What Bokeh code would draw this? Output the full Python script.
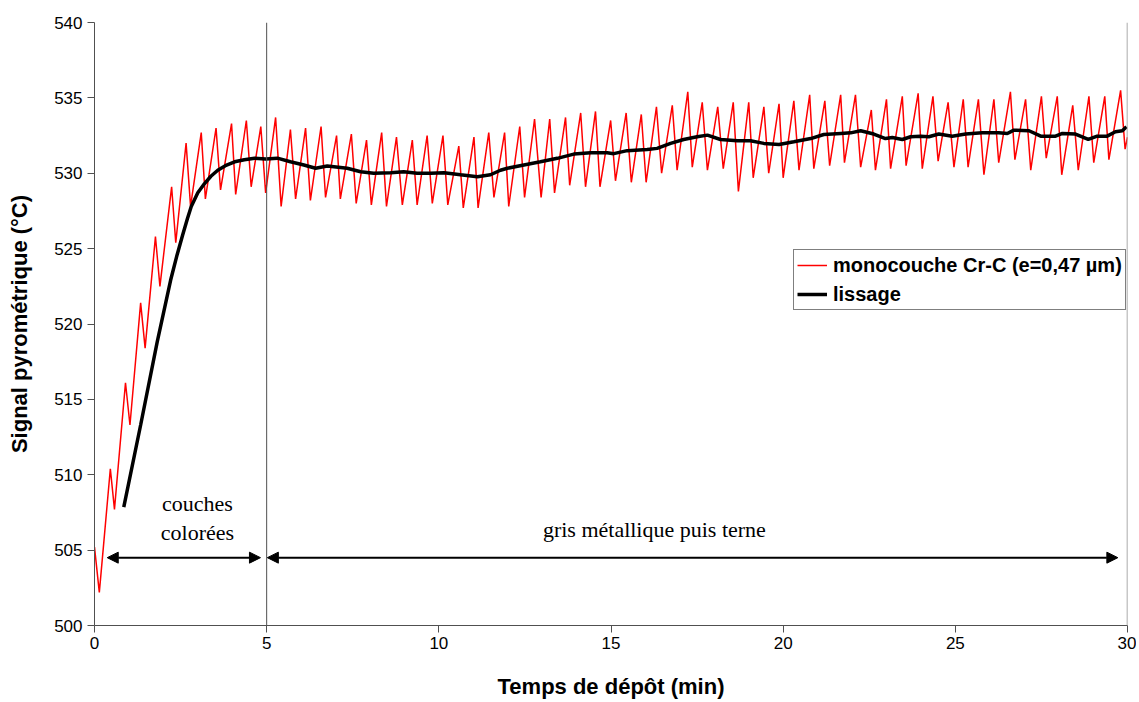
from bokeh.plotting import figure
from bokeh.models import (Span, Arrow, NormalHead, Label, Legend, LegendItem,
                          Range1d, FixedTicker)
from bokeh.embed import file_html
from bokeh.resources import INLINE

# ---- data ----
signal_t = [0.00, 0.14, 0.25, 0.46, 0.58, 0.90, 1.03, 1.34, 1.47, 1.77, 1.90, 2.24, 2.36,
            2.66, 2.79, 3.10, 3.22, 3.53, 3.66, 3.98, 4.10, 4.41, 4.55, 4.83, 4.97,
            5.26, 5.42, 5.69, 5.84, 6.13, 6.27, 6.58, 6.71, 7.03, 7.14, 7.46, 7.60,
            7.90, 8.04, 8.34, 8.48, 8.77, 8.94, 9.23, 9.37, 9.66, 9.81, 10.12, 10.26,
            10.58, 10.71, 11.02, 11.14, 11.45, 11.60, 11.91, 12.03, 12.35, 12.49,
            12.78, 12.97, 13.22, 13.36, 13.68, 13.80, 14.12, 14.26, 14.55, 14.68,
            14.99, 15.13, 15.44, 15.59, 15.88, 16.02, 16.32, 16.47, 16.78, 16.92,
            17.23, 17.36, 17.65, 17.80, 18.10, 18.26, 18.55, 18.70, 19.00, 19.13,
            19.44, 19.58, 19.88, 20.00, 20.31, 20.46, 20.77, 20.89, 21.21, 21.35,
            21.67, 21.78, 22.10, 22.25, 22.56, 22.68, 23.00, 23.12, 23.46, 23.57,
            23.92, 24.04, 24.35, 24.50, 24.79, 24.96, 25.23, 25.37, 25.67, 25.83,
            26.12, 26.26, 26.60, 26.73, 27.04, 27.19, 27.50, 27.64, 27.96, 28.09,
            28.41, 28.57, 28.88, 29.02, 29.34, 29.46, 29.80, 29.93, 30.00]
signal_v = [505.2, 502.2, 505.0, 510.4, 507.7, 516.1, 513.3, 521.4, 518.4, 525.8, 522.5, 529.1, 525.4,
            532.0, 527.8, 532.7, 528.3, 533.0, 528.9, 533.3, 528.6, 533.5, 529.1, 533.1, 528.7,
            533.7, 527.8, 532.9, 528.3, 533.0, 528.2, 533.1, 528.4, 532.5, 528.3, 532.6, 528.0,
            532.2, 527.9, 532.7, 527.8, 532.4, 527.9, 532.2, 527.9, 532.5, 528.0, 532.5, 527.9,
            531.8, 527.7, 532.4, 527.7, 532.7, 528.4, 532.7, 527.8, 533.1, 528.4,
            533.6, 528.4, 533.6, 528.7, 533.7, 529.2, 534.0, 529.1, 534.1, 529.1,
            533.5, 529.5, 534.0, 529.4, 533.9, 529.4, 534.4, 530.0, 534.5, 530.2,
            535.4, 530.4, 534.7, 530.2, 534.4, 530.3, 534.7, 528.8, 534.7, 529.7,
            534.4, 530.0, 534.6, 529.7, 534.8, 530.2, 535.2, 530.3, 534.8, 530.5,
            535.2, 530.7, 535.2, 530.4, 534.2, 530.2, 534.9, 530.3, 535.1, 530.5,
            535.3, 530.3, 535.1, 530.8, 534.7, 530.4, 534.9, 530.4, 534.9, 529.9,
            534.9, 530.7, 535.4, 530.9, 534.9, 530.2, 535.1, 531.0, 535.1, 529.9,
            534.5, 530.2, 535.1, 530.7, 535.1, 530.9, 535.5, 531.6, 532.4]

smooth_t = [0.85, 1.34, 1.82, 2.21, 2.40, 2.56, 2.70, 2.81, 3.00, 3.19, 3.38, 3.58, 3.80,
            4.07, 4.35, 4.65, 4.97, 5.31, 5.69,
            6.08, 6.42, 6.76, 7.34, 7.73, 8.11, 8.60, 8.98, 9.37, 9.76, 10.15, 10.63,
            11.12, 11.50, 11.79, 11.99, 12.47, 12.95, 13.44, 13.92, 14.41, 14.89, 15.08,
            15.47, 16.05, 16.34, 16.73, 17.11, 17.50, 17.80, 18.18, 18.67, 19.05, 19.44,
            19.88, 20.31, 20.80, 21.18, 21.67, 21.96, 22.25, 22.63, 22.97, 23.17, 23.46,
            23.70, 23.99, 24.23, 24.52, 24.91, 25.30, 25.78, 26.26, 26.51, 26.70, 27.14,
            27.48, 27.91, 28.11, 28.49, 28.86, 29.12, 29.41, 29.65, 29.85, 29.97]
smooth_v = [507.85, 513.3, 518.8, 522.9, 524.6, 525.9, 527.0, 527.8, 528.7, 529.3, 529.8, 530.2, 530.5,
            530.76, 530.9, 531.0, 530.95, 531.0, 530.76,
            530.55, 530.33, 530.48, 530.33, 530.1, 530.0, 530.04, 530.1, 530.0, 530.0, 530.04, 529.9,
            529.77, 529.9, 530.2, 530.33, 530.55, 530.76, 530.99, 531.27, 531.36, 531.36, 531.3,
            531.5, 531.58, 531.65, 531.98, 532.24, 532.42, 532.53, 532.24, 532.15, 532.15, 531.98,
            531.91, 532.09, 532.3, 532.57, 532.64, 532.68, 532.82, 532.6, 532.3, 532.37, 532.24,
            532.42, 532.46, 532.42, 532.6, 532.46, 532.6, 532.68, 532.68, 532.64, 532.86, 532.82,
            532.46, 532.46, 532.64, 532.6, 532.24, 532.46, 532.46, 532.75, 532.82, 533.08]

x_ticks = [0, 5, 10, 15, 20, 25, 30]
y_ticks = [500, 505, 510, 515, 520, 525, 530, 535, 540]

series_label = "monocouche Cr-C (e=0,47 µm)"
smooth_label = "lissage"

AX = "#505050"

p = figure(width=1136, height=701, output_backend="svg", toolbar_location=None,
           x_range=Range1d(0, 30), y_range=Range1d(500, 540),
           min_border_left=94, min_border_right=9, min_border_top=22, min_border_bottom=74)
p.outline_line_color = None
p.xgrid.visible = False
p.ygrid.visible = False
p.background_fill_color = "white"
p.border_fill_color = "white"

p.xaxis.ticker = FixedTicker(ticks=x_ticks)
p.yaxis.ticker = FixedTicker(ticks=y_ticks)
for ax in (p.xaxis[0], p.yaxis[0]):
    ax.axis_line_color = AX
    ax.major_tick_line_color = AX
    ax.minor_tick_line_color = None
    ax.major_tick_in = 0
    ax.major_tick_out = 7
    ax.major_label_text_font = "Liberation Sans"
    ax.major_label_text_font_size = "17px"
    ax.major_label_text_color = "black"
    ax.axis_label_text_font = "Liberation Sans"
    ax.axis_label_text_font_style = "bold"
    ax.axis_label_text_font_size = "22px"
    ax.axis_label_text_color = "black"
p.xaxis.axis_label = "Temps de dépôt (min)"
p.yaxis.axis_label = "Signal pyrométrique (°C)"
p.xaxis.major_label_standoff = 4
p.xaxis.axis_label_standoff = 22
p.yaxis.major_label_standoff = 5
p.yaxis.axis_label_standoff = 19

# vertical separators
p.add_layout(Span(location=5, dimension="height", line_color=AX, line_width=1))
p.add_layout(Span(location=30, dimension="height", line_color="#909090", line_width=1.5))

r_sig = p.line(signal_t, signal_v, line_color="#ff0000", line_width=1.5)
r_smo = p.line(smooth_t, smooth_v, line_color="black", line_width=3.5)

# arrows
for xs, xe in ((0.37, 4.82), (5.02, 29.72)):
    p.add_layout(Arrow(x_start=xs, y_start=504.5, x_end=xe, y_end=504.5,
                       line_color="black", line_width=2,
                       start=NormalHead(size=11, fill_color="black", line_color="black"),
                       end=NormalHead(size=11, fill_color="black", line_color="black")))

serif = "Liberation Serif"
for txt, yv in (("couches", 508.1), ("colorées", 506.2)):
    p.add_layout(Label(x=2.99, y=yv, text=txt, text_font=serif, text_font_size="22px",
                       text_align="center", text_baseline="middle", text_color="black"))
p.add_layout(Label(x=16.26, y=506.4, text="gris métallique puis terne", text_font=serif,
                   text_font_size="22px", text_align="center", text_baseline="middle",
                   text_color="black"))

legend = Legend(items=[LegendItem(label=series_label, renderers=[r_sig]),
                       LegendItem(label=smooth_label, renderers=[r_smo])],
                location=(699, 315), margin=0, padding=3, spacing=5,
                glyph_width=30, glyph_height=24, label_height=24, label_standoff=6,
                label_text_font="Liberation Sans", label_text_font_style="bold",
                label_text_font_size="20px", label_text_color="black",
                border_line_color="black", border_line_width=1,
                background_fill_color="white", background_fill_alpha=1)
p.add_layout(legend, "center")

open("out.html", "w").write(file_html(p, INLINE))
